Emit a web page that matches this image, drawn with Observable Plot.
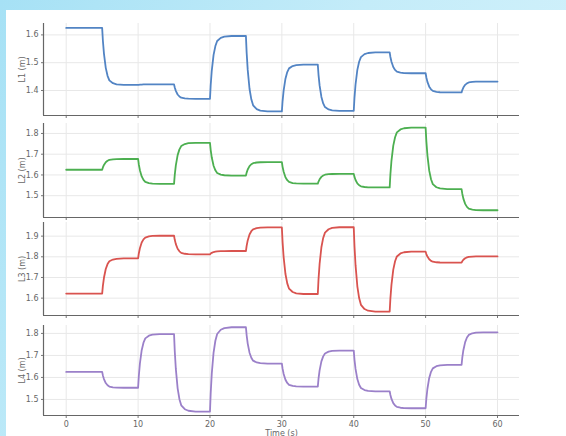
<!DOCTYPE html>
<html>
<head>
<meta charset="utf-8">
<script src="https://cdn.jsdelivr.net/npm/d3@7"></script>
<script src="https://cdn.jsdelivr.net/npm/@observablehq/plot@0.6"></script>
<style>
  html, body { margin: 0; padding: 0; }
  body { width: 566px; height: 436px; overflow: hidden;
         background: linear-gradient(120deg, #a6e1f5 0%, #c4ecf9 45%, #d9f4fc 100%); }
  #wrap { position: relative; width: 566px; height: 436px; }
  #paper { position: absolute; left: 6px; top: 10px; right: 0; bottom: 0; background: #fff; }
  .panel { position: absolute; left: 0; }
  .panel svg { overflow: visible; }
</style>
</head>
<body>
<div id="wrap"><div id="paper"></div></div>
<script>
// segment start times (s) – each level holds for 5 s
const segStarts = [0, 5, 10, 15, 20, 25, 30, 35, 40, 45, 50, 55];
const tEnd = 60;
// plateau levels (m)
const L1 = [1.625, 1.420, 1.422, 1.370, 1.596, 1.325, 1.493, 1.327, 1.537, 1.462, 1.393, 1.432];
const L2 = [1.625, 1.677, 1.557, 1.755, 1.597, 1.662, 1.558, 1.605, 1.540, 1.828, 1.532, 1.430];
const L3 = [1.622, 1.792, 1.902, 1.812, 1.828, 1.942, 1.620, 1.943, 1.535, 1.825, 1.772, 1.802];
const L4 = [1.625, 1.553, 1.797, 1.445, 1.828, 1.663, 1.558, 1.722, 1.537, 1.460, 1.657, 1.805];
// shape of each transition: time after step (s) and fraction completed
const respOffset = [0, 0.1, 0.25, 0.5, 0.75, 1.0, 1.5, 2.0, 3.0];
const respFrac   = [0, 0.22, 0.45, 0.70, 0.84, 0.92, 0.97, 0.99, 1.0];

const xTicks = [0, 10, 20, 30, 40, 50, 60];
const xDomain = [-3.16, 63.06];
const panels = [
  {name: "L1 (m)", levels: L1, color: "#5284c4", y: [1.310, 1.641], ticks: [1.4, 1.5, 1.6], top: 23, bottom: 115},
  {name: "L2 (m)", levels: L2, color: "#4caf50", y: [1.395, 1.848], ticks: [1.5, 1.6, 1.7, 1.8], top: 123, bottom: 217},
  {name: "L3 (m)", levels: L3, color: "#d9534f", y: [1.516, 1.966], ticks: [1.6, 1.7, 1.8, 1.9], top: 222, bottom: 315},
  {name: "L4 (m)", levels: L4, color: "#9b80c9", y: [1.427, 1.836], ticks: [1.5, 1.6, 1.7, 1.8], top: 325, bottom: 415}
];

function buildSeries(levels) {
  const pts = [{t: segStarts[0], v: levels[0]}];
  for (let k = 1; k < levels.length; k++) {
    const prev = levels[k - 1], next = levels[k];
    respOffset.forEach((o, j) => pts.push({t: segStarts[k] + o, v: prev + (next - prev) * respFrac[j]}));
  }
  pts.push({t: tEnd, v: levels[levels.length - 1]});
  return pts;
}

const wrap = document.getElementById("wrap");
panels.forEach((p, i) => {
  const last = i === panels.length - 1;
  const mt = 4, mb = last ? 22 : 4;
  const data = buildSeries(p.levels);
  const chart = Plot.plot({
    width: 566,
    height: (p.bottom - p.top) + mt + mb,
    marginLeft: 43, marginRight: 47, marginTop: mt, marginBottom: mb,
    x: {domain: xDomain},
    y: {domain: p.y},
    style: {fontFamily: "DejaVu Sans, sans-serif", fontSize: "8px", color: "#666", background: "transparent", overflow: "visible"},
    marks: [
      Plot.gridX(xTicks, {stroke: "#e8e8e8", strokeOpacity: 1}),
      Plot.gridY(p.ticks, {stroke: "#e8e8e8", strokeOpacity: 1}),
      Plot.axisY(p.ticks, {tickSize: 2, tickPadding: 3, tickFormat: d3.format(".1f"), stroke: "#777",
                           label: p.name, labelAnchor: "center", labelOffset: 24, labelArrow: "none"}),
      Plot.axisX(xTicks, {tickSize: 3, tickPadding: 3, stroke: "#777",
                          tickFormat: last ? d3.format("d") : () => "",
                          label: last ? "Time (s)" : null, labelAnchor: "center", labelOffset: 20, labelArrow: "none"}),
      Plot.ruleX([xDomain[0]], {stroke: "#666", strokeWidth: 1.2}),
      Plot.ruleY([p.y[0]], {stroke: "#666", strokeWidth: 1.2}),
      Plot.line(data, {x: "t", y: "v", stroke: p.color, strokeWidth: 1.8})
    ]
  });
  const div = document.createElement("div");
  div.className = "panel";
  div.style.top = (p.top - mt) + "px";
  div.appendChild(chart);
  wrap.appendChild(div);
});
</script>
</body>
</html>
